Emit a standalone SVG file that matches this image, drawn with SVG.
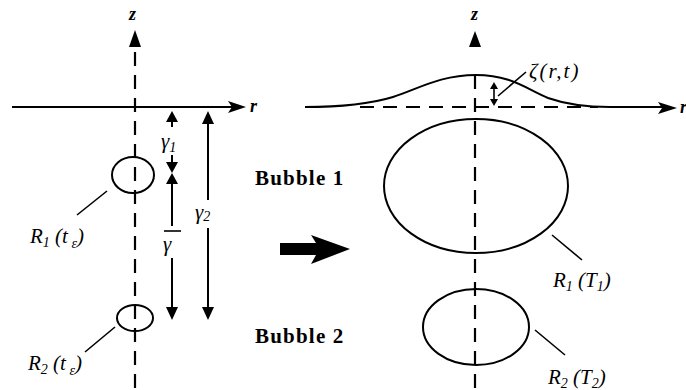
<svg xmlns="http://www.w3.org/2000/svg" width="686" height="390" viewBox="0 0 686 390">
<style>
.ln{stroke:#000;stroke-width:2;fill:none}
.ds{stroke:#000;stroke-width:2.2;fill:none;stroke-dasharray:14 9}
.th{stroke:#000;stroke-width:1.6;fill:none}
.hd{fill:#000;stroke:none}
.lb{font-family:"Liberation Serif","Times New Roman","DejaVu Serif",serif;font-style:italic;font-size:21px;fill:#000}
.ax{font-family:"Liberation Serif","Times New Roman","DejaVu Serif",serif;font-style:italic;font-weight:bold;font-size:18px;fill:#000}
.bb{font-family:"Liberation Serif","Times New Roman","DejaVu Serif",serif;font-weight:bold;font-size:21px;letter-spacing:1.2px;fill:#000}
.sb{font-size:14px}
</style>
<rect width="686" height="390" fill="#fff"/>
<g id="left-axes">
  <text class="ax" x="129" y="20">z</text>
  <polygon class="hd" points="135,30 129,47 141,47"/>
  <path class="ds" d="M135,52 V390"/>
  <path class="ln" d="M12,107 H236"/>
  <polygon class="hd" points="246,107 228,101 232,107 228,113"/>
  <text class="ax" x="250" y="112">r</text>
</g>
<g id="bubble1-left">
  <ellipse class="ln" cx="133" cy="175" rx="21" ry="18"/>
  <path class="th" d="M107,191 L77,215"/>
  <text class="lb" x="30" y="243">R<tspan class="sb" dy="4">1</tspan><tspan dy="-4"> (</tspan><tspan>t</tspan><tspan class="sb" dy="5"> ε</tspan><tspan dy="-5">)</tspan></text>
</g>
<g id="bubble2-left">
  <ellipse class="ln" cx="135" cy="318" rx="18" ry="13"/>
  <path class="th" d="M115,327 L85,352"/>
  <text class="lb" x="28" y="370">R<tspan class="sb" dy="4">2</tspan><tspan dy="-4"> (</tspan><tspan>t</tspan><tspan class="sb" dy="5"> ε</tspan><tspan dy="-5">)</tspan></text>
</g>
<g id="dimensions">
  <polygon class="hd" points="172,111 166,122 178,122"/>
  <path class="ln" d="M172,122 V127"/>
  <text class="lb" x="161" y="148">γ<tspan class="sb" dy="4">1</tspan></text>
  <path class="ln" d="M172,155 V163"/>
  <polygon class="hd" points="172,173 166,162 178,162"/>
  <polygon class="hd" points="172,173 166,184 178,184"/>
  <path class="ln" d="M172,184 V226"/>
  <text class="lb" x="163" y="251">γ</text>
  <path class="th" d="M164,231 H181"/>
  <path class="ln" d="M172,258 V309"/>
  <polygon class="hd" points="172,320 166,307 178,307"/>
  <polygon class="hd" points="208,111 202,124 214,124"/>
  <path class="ln" d="M208,124 V200"/>
  <text class="lb" x="195" y="219">γ<tspan class="sb" dy="2">2</tspan></text>
  <path class="ln" d="M208,228 V309"/>
  <polygon class="hd" points="208,320 202,307 214,307"/>
</g>
<g id="labels">
  <text class="bb" x="255" y="185">Bubble 1</text>
  <text class="bb" x="255" y="343">Bubble 2</text>
</g>
<g id="big-arrow">
  <polygon class="hd" points="280,243 316,243 311,235 350,249 311,264 316,255 280,255"/>
</g>
<g id="right-axes">
  <text class="ax" x="471" y="20">z</text>
  <polygon class="hd" points="475,31 469,47 481,47"/>
  <path class="ds" d="M475,75 V390"/>
  <path class="ds" d="M360,107 H598"/>
  <path class="ln" d="M305,107 C345,107 370,104 393,97 C418,89 440,75 476,75 C510,75 525,88 548,98 C565,104 585,107 610,107 H666"/>
  <polygon class="hd" points="677,108 658,102 662,108 658,114"/>
  <text class="ax" x="680" y="113">r</text>
</g>
<g id="surface-label">
  <path class="th" d="M494,87 V104"/>
  <polygon class="hd" points="494,82 490,89 498,89"/>
  <polygon class="hd" points="494,106 490,99 498,99"/>
  <path class="th" d="M498,96 L526,72"/>
  <text class="lb" x="529" y="78" style="font-size:21px;letter-spacing:2px">ζ(r,t)</text>
</g>
<g id="bubble1-right">
  <ellipse class="ln" cx="476" cy="186" rx="92" ry="67"/>
  <path class="th" d="M552,235 L582,260"/>
  <text class="lb" x="553" y="287">R<tspan class="sb" dy="4">1</tspan><tspan dy="-4"> (T</tspan><tspan class="sb" dy="4">1</tspan><tspan dy="-4">)</tspan></text>
</g>
<g id="bubble2-right">
  <ellipse class="ln" cx="476" cy="327" rx="53" ry="38"/>
  <path class="th" d="M535,330 L565,355"/>
  <text class="lb" x="548" y="384">R<tspan class="sb" dy="4">2</tspan><tspan dy="-4"> (T</tspan><tspan class="sb" dy="4">2</tspan><tspan dy="-4">)</tspan></text>
</g>
</svg>
